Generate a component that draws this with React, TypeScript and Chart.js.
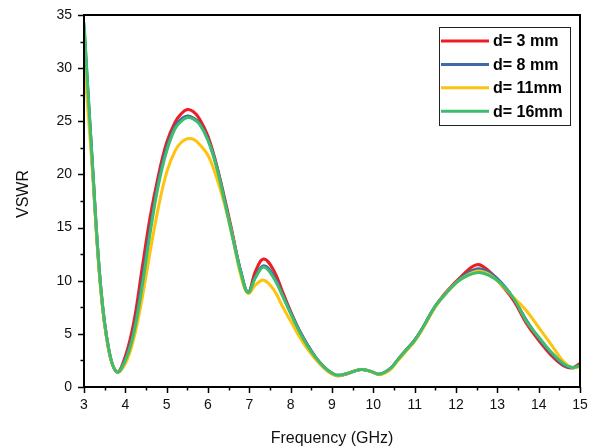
import React, { useEffect, useRef } from "react";
import Chart from "chart.js/auto";

const freq = [3.0, 3.2, 3.4, 3.6, 3.8, 4.0, 4.2, 4.4, 4.6, 4.8, 5.0, 5.2, 5.35, 5.5, 5.65, 5.8, 6.0, 6.2, 6.4, 6.6, 6.8, 6.97, 7.15, 7.35, 7.6, 7.8, 8.0, 8.2, 8.4, 8.6, 8.8, 9.0, 9.15, 9.4, 9.7, 9.95, 10.15, 10.4, 10.6, 10.8, 11.0, 11.2, 11.5, 11.8, 12.1, 12.5, 12.8, 13.1, 13.4, 13.7, 14.0, 14.3, 14.6, 14.8, 15.0];

const vswrD3 = [33.5, 21.0, 9.5, 3.5, 1.4, 2.9, 6.0, 11.0, 16.0, 19.9, 23.0, 24.9, 25.7, 26.1, 25.9, 25.2, 23.6, 21.0, 17.8, 14.3, 10.7, 8.9, 10.9, 12.05, 10.9, 9.0, 7.1, 5.4, 4.0, 2.8, 1.9, 1.3, 1.05, 1.3, 1.65, 1.45, 1.2, 1.7, 2.6, 3.5, 4.4, 5.6, 7.6, 9.1, 10.3, 11.5, 10.9, 9.6, 8.1, 6.0, 4.4, 3.0, 2.0, 1.8, 2.2];
const vswrD8 = [34.0, 21.2, 9.6, 3.5, 1.4, 2.6, 5.2, 9.8, 14.9, 19.3, 22.5, 24.5, 25.2, 25.5, 25.3, 24.8, 23.3, 20.9, 17.6, 14.1, 10.8, 8.9, 10.4, 11.4, 10.4, 8.7, 7.0, 5.4, 4.0, 2.8, 1.9, 1.3, 1.1, 1.3, 1.65, 1.45, 1.2, 1.7, 2.6, 3.5, 4.4, 5.6, 7.6, 9.0, 10.2, 11.1, 10.8, 9.8, 8.3, 6.3, 4.6, 3.2, 2.1, 1.8, 2.0];
const vswrD11 = [31.0, 20.5, 9.4, 3.4, 1.4, 2.2, 4.5, 8.2, 12.7, 16.9, 20.2, 22.2, 23.0, 23.35, 23.3, 22.8, 21.8, 19.8, 17.2, 14.0, 10.4, 8.8, 9.6, 10.05, 9.1, 7.6, 6.2, 4.8, 3.6, 2.6, 1.8, 1.2, 1.05, 1.3, 1.65, 1.45, 1.15, 1.6, 2.5, 3.4, 4.3, 5.5, 7.5, 9.0, 10.1, 10.9, 10.6, 9.6, 8.4, 7.2, 5.6, 4.0, 2.4, 1.85, 1.9];
const vswrD16 = [34.3, 21.2, 9.6, 3.5, 1.4, 2.5, 5.0, 9.3, 14.5, 19.0, 22.2, 24.3, 25.0, 25.35, 25.2, 24.7, 23.2, 20.8, 17.5, 14.0, 10.7, 8.9, 10.3, 11.3, 10.2, 8.6, 6.9, 5.3, 3.9, 2.8, 1.9, 1.3, 1.1, 1.3, 1.65, 1.45, 1.2, 1.7, 2.6, 3.5, 4.4, 5.6, 7.6, 9.0, 10.1, 10.75, 10.5, 9.7, 8.3, 6.2, 4.7, 3.3, 2.2, 1.85, 2.0];

const seriesLabels = ["d= 3 mm", "d= 8 mm", "d= 11mm", "d= 16mm"];
const seriesColors = ["#ee1c24", "#3e6ba8", "#ffc20e", "#3dbd6d"];
const seriesValues = [vswrD3, vswrD8, vswrD11, vswrD16];

const xMin = 3, xMax = 15, xStep = 1, xMinor = 0.5;
const yMin = 0, yMax = 35, yStep = 5, yMinor = 2.5;
const xTitle = "Frequency (GHz)";
const yTitle = "VSWR";

const FONT = "'Liberation Sans', Arial, sans-serif";

const framePlugin = {
  id: "frame",
  afterDraw(chart: any) {
    const { ctx, chartArea: a, scales } = chart;
    const x = scales.x, y = scales.y;
    ctx.save();
    ctx.strokeStyle = "#000";
    ctx.lineWidth = 2;
    ctx.strokeRect(a.left, a.top, a.right - a.left, a.bottom - a.top);
    ctx.lineWidth = 1.5;
    for (let v = xMin; v <= xMax + 1e-9; v += xMinor) {
      const px = Math.round(x.getPixelForValue(v)) + 0.5;
      const major = Math.abs(v - Math.round(v / xStep) * xStep) < 1e-6;
      ctx.beginPath();
      ctx.moveTo(px, a.bottom);
      ctx.lineTo(px, a.bottom + (major ? 6 : 3.5));
      ctx.stroke();
    }
    for (let v = yMin; v <= yMax + 1e-9; v += yMinor) {
      const py = Math.round(y.getPixelForValue(v)) + 0.5;
      const major = Math.abs(v - Math.round(v / yStep) * yStep) < 1e-6;
      ctx.beginPath();
      ctx.moveTo(a.left, py);
      ctx.lineTo(a.left - (major ? 6 : 3.5), py);
      ctx.stroke();
    }
    // y title
    ctx.save();
    ctx.translate(23.5, (a.top + a.bottom) / 2 - 7);
    ctx.rotate(-Math.PI / 2);
    ctx.font = `16px ${FONT}`;
    ctx.fillStyle = "#111";
    ctx.textAlign = "center";
    ctx.textBaseline = "middle";
    ctx.fillText(yTitle, 0, 0);
    ctx.restore();
    // legend
    const bx = a.right - 141, by = a.top + 12, bw = 131, bh = 98;
    ctx.fillStyle = "#fff";
    ctx.fillRect(bx, by, bw, bh);
    ctx.lineWidth = 1;
    ctx.strokeStyle = "#222";
    ctx.strokeRect(bx + 0.5, by + 0.5, bw, bh);
    ctx.font = `bold 16px ${FONT}`;
    ctx.textBaseline = "middle";
    ctx.textAlign = "left";
    chart.data.datasets.forEach((ds: any, i: number) => {
      const ry = by + 14 + i * 23.4;
      ctx.strokeStyle = ds.borderColor;
      ctx.lineWidth = 3;
      ctx.beginPath();
      ctx.moveTo(bx + 2, ry);
      ctx.lineTo(bx + 50, ry);
      ctx.stroke();
      ctx.fillStyle = "#000";
      ctx.fillText(ds.label, bx + 54, ry + 1);
    });
    ctx.restore();
  },
};

export default function App() {
  const ref = useRef<HTMLCanvasElement>(null);
  useEffect(() => {
    const order = [3, 2, 1, 0];
    const chart = new Chart(ref.current!, {
      type: "line",
      data: {
        datasets: seriesValues.map((vals, i) => ({
          label: seriesLabels[i],
          data: freq.map((f, j) => ({ x: f, y: vals[j] })),
          borderColor: seriesColors[i],
          backgroundColor: seriesColors[i],
          borderWidth: 3,
          pointRadius: 0,
          tension: 0.4,
          fill: false,
          order: order[i],
        })),
      },
      options: {
        animation: false,
        responsive: true,
        maintainAspectRatio: false,
        layout: { padding: { left: 0, top: 15, right: 15, bottom: 0 } },
        plugins: { legend: { display: false }, tooltip: { enabled: false } },
        scales: {
          x: {
            type: "linear",
            min: xMin,
            max: xMax,
            grid: { display: false, drawTicks: true, tickLength: 10 },
            border: { display: false },
            ticks: { stepSize: xStep, padding: 0, color: "#111", font: { family: FONT, size: 14 } },
            title: { display: true, text: xTitle, color: "#111", font: { family: FONT, size: 16 }, padding: { top: 0, bottom: 0 } },
            afterFit: (s: any) => { s.height = 61; },
          },
          y: {
            type: "linear",
            min: yMin,
            max: yMax,
            grid: { display: false, drawTicks: true, tickLength: 12 },
            border: { display: false },
            ticks: { stepSize: yStep, padding: 0, color: "#111", font: { family: FONT, size: 14 } },
            title: { display: false, text: yTitle },
            afterFit: (s: any) => { s.width = 84; },
          },
        },
      },
      plugins: [framePlugin],
    });
    return () => chart.destroy();
  }, []);
  return (
    <div style={{ position: "fixed", left: 0, top: 0, width: 595, height: 448, background: "#fff" }}>
      <canvas ref={ref} />
    </div>
  );
}
